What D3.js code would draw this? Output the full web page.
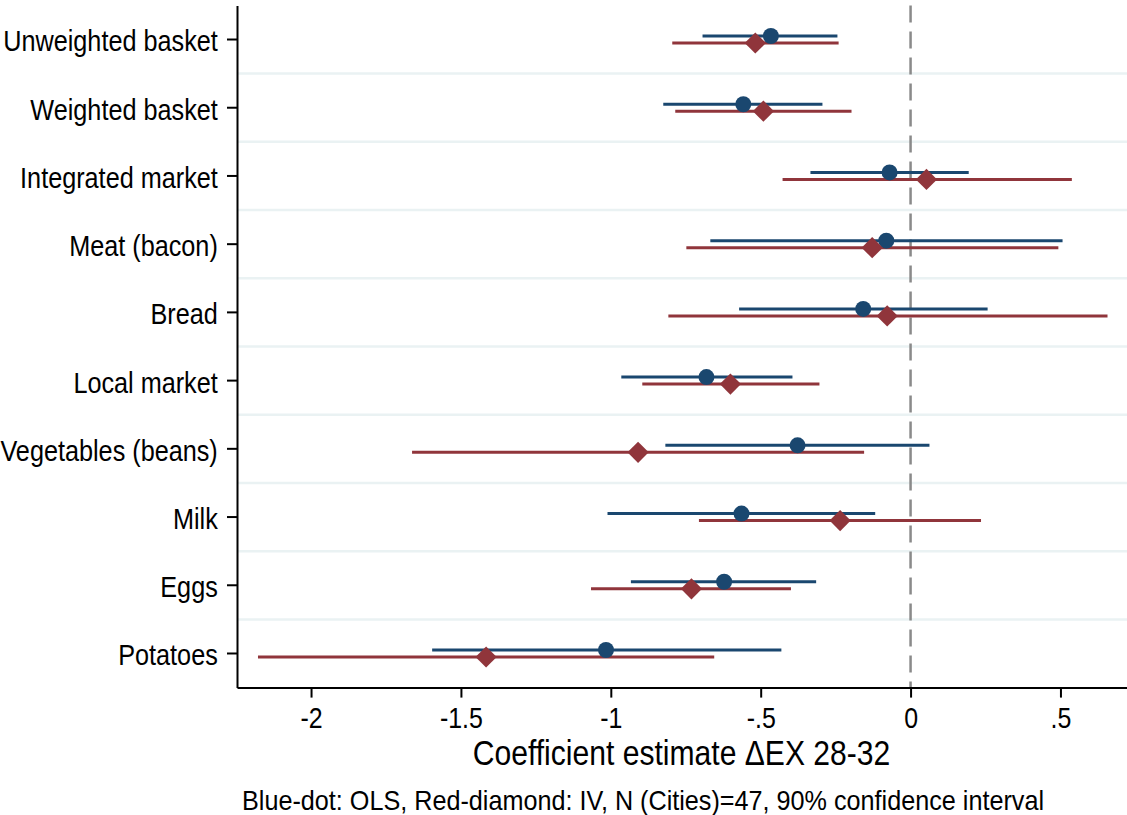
<!DOCTYPE html>
<html>
<head>
<meta charset="utf-8">
<script src="https://cdn.jsdelivr.net/npm/d3@7"></script>
<style>
  body { margin: 0; background: #fff; }
  text { font-family: "Liberation Sans", Arial, sans-serif; fill: #000; }
</style>
</head>
<body>
<div id="chart"></div>
<script>
// categories, top to bottom
const categories = ["Unweighted basket", "Weighted basket", "Integrated market", "Meat (bacon)",
    "Bread", "Local market", "Vegetables (beans)", "Milk", "Eggs", "Potatoes"];

// OLS (blue dot): estimate and 90% CI
const olsEst = [-0.466, -0.558, -0.070, -0.081, -0.158, -0.681, -0.377, -0.564, -0.622, -1.016];
const olsLo  = [-0.694, -0.825, -0.334, -0.668, -0.572, -0.965, -0.818, -1.011, -0.933, -1.596];
const olsHi  = [-0.244, -0.294,  0.194,  0.507,  0.257, -0.394,  0.063, -0.118, -0.315, -0.431];

// IV (red diamond): estimate and 90% CI
const ivEst = [-0.518, -0.491,  0.053, -0.128, -0.078, -0.601, -0.909, -0.235, -0.731, -1.416];
const ivLo  = [-0.795, -0.785, -0.427, -0.748, -0.808, -0.895, -1.663, -0.706, -1.066, -2.177];
const ivHi  = [-0.240, -0.197,  0.538,  0.493,  0.657, -0.304, -0.155,  0.235, -0.399, -0.655];

const xTicks = [-2, -1.5, -1, -0.5, 0, 0.5];
const xTickLabels = ["-2", "-1.5", "-1", "-.5", "0", ".5"];

const W = 1127, H = 815;
const plot = {left: 237, right: 1127, top: 5.4, bottom: 687.6};
const blue = "#1a476f", red = "#90353b";
const narrow = 0.86; // the original font is condensed

const svg = d3.select("#chart").append("svg")
    .attr("width", W)
    .attr("height", H);

const x = d3.scaleLinear().domain([-2.247, 0.722]).range([plot.left, plot.right]);
const y = d3.scaleBand().domain(categories).range([plot.top, plot.bottom]).padding(0);

// grid lines between rows
svg.append("g").selectAll("line")
    .data(categories.slice(1))
    .enter().append("line")
    .attr("x1", plot.left).attr("x2", plot.right)
    .attr("y1", d => y(d)).attr("y2", d => y(d))
    .attr("stroke", "#eaf2f3")
    .attr("stroke-width", 2.5);

// zero reference line
svg.append("line")
    .attr("x1", x(0)).attr("x2", x(0))
    .attr("y1", plot.top).attr("y2", plot.bottom)
    .attr("stroke", "#8a8a8a")
    .attr("stroke-width", 2.5)
    .attr("stroke-dasharray", "17,9");

const rows = categories.map((c, i) => ({
    cat: c,
    ols: {est: olsEst[i], lo: olsLo[i], hi: olsHi[i]},
    iv: {est: ivEst[i], lo: ivLo[i], hi: ivHi[i]}
}));
const center = d => y(d.cat) + y.bandwidth() / 2;

// OLS intervals
svg.append("g").selectAll("line")
    .data(rows).enter().append("line")
    .attr("x1", d => x(d.ols.lo)).attr("x2", d => x(d.ols.hi))
    .attr("y1", d => center(d) - 3.5).attr("y2", d => center(d) - 3.5)
    .attr("stroke", blue).attr("stroke-width", 3);

// IV intervals
svg.append("g").selectAll("line")
    .data(rows).enter().append("line")
    .attr("x1", d => x(d.iv.lo)).attr("x2", d => x(d.iv.hi))
    .attr("y1", d => center(d) + 3.5).attr("y2", d => center(d) + 3.5)
    .attr("stroke", red).attr("stroke-width", 3);

svg.append("g").selectAll("circle")
    .data(rows).enter().append("circle")
    .attr("cx", d => x(d.ols.est))
    .attr("cy", d => center(d) - 3.5)
    .attr("r", 8)
    .attr("fill", blue);

svg.append("g").selectAll("path")
    .data(rows).enter().append("path")
    .attr("d", d3.symbol().type(d3.symbolSquare).size(225))
    .attr("transform", d => "translate(" + x(d.iv.est) + "," + (center(d) + 3.5) + ") rotate(45)")
    .attr("fill", red);

// axes
const yAxis = svg.append("g")
    .attr("transform", "translate(" + plot.left + ",0)")
    .call(d3.axisLeft(y).tickSize(10).tickPadding(9).tickSizeOuter(0));
yAxis.select(".domain").attr("stroke-width", 2).attr("stroke", "#000");
yAxis.selectAll(".tick line").attr("stroke-width", 2);
yAxis.selectAll(".tick text")
    .style("font-size", "29px")
    .attr("font-family", null)
    .attr("x", -19 / narrow)
    .attr("dy", "0.41em")
    .attr("transform", "scale(" + (narrow + 0.01) + ",1)");

const xAxis = svg.append("g")
    .attr("transform", "translate(0," + plot.bottom + ")")
    .call(d3.axisBottom(x).tickValues(xTicks)
        .tickFormat((d, i) => xTickLabels[i])
        .tickSize(10).tickPadding(10).tickSizeOuter(0));
xAxis.select(".domain").attr("stroke-width", 2).attr("stroke", "#000");
xAxis.selectAll(".tick line").attr("stroke-width", 2);
xAxis.selectAll(".tick text")
    .style("font-size", "29px")
    .attr("font-family", null)
    .attr("transform", "scale(" + narrow + ",1)");

svg.append("text")
    .attr("transform", "translate(681.5,765) scale(" + narrow + ",1)")
    .attr("text-anchor", "middle")
    .style("font-size", "35px")
    .text("Coefficient estimate \u0394EX 28-32");

svg.append("text")
    .attr("transform", "translate(643,810) scale(0.9,1)")
    .attr("text-anchor", "middle")
    .style("font-size", "28px")
    .text("Blue-dot: OLS, Red-diamond: IV, N (Cities)=47, 90% confidence interval");
</script>
</body>
</html>
